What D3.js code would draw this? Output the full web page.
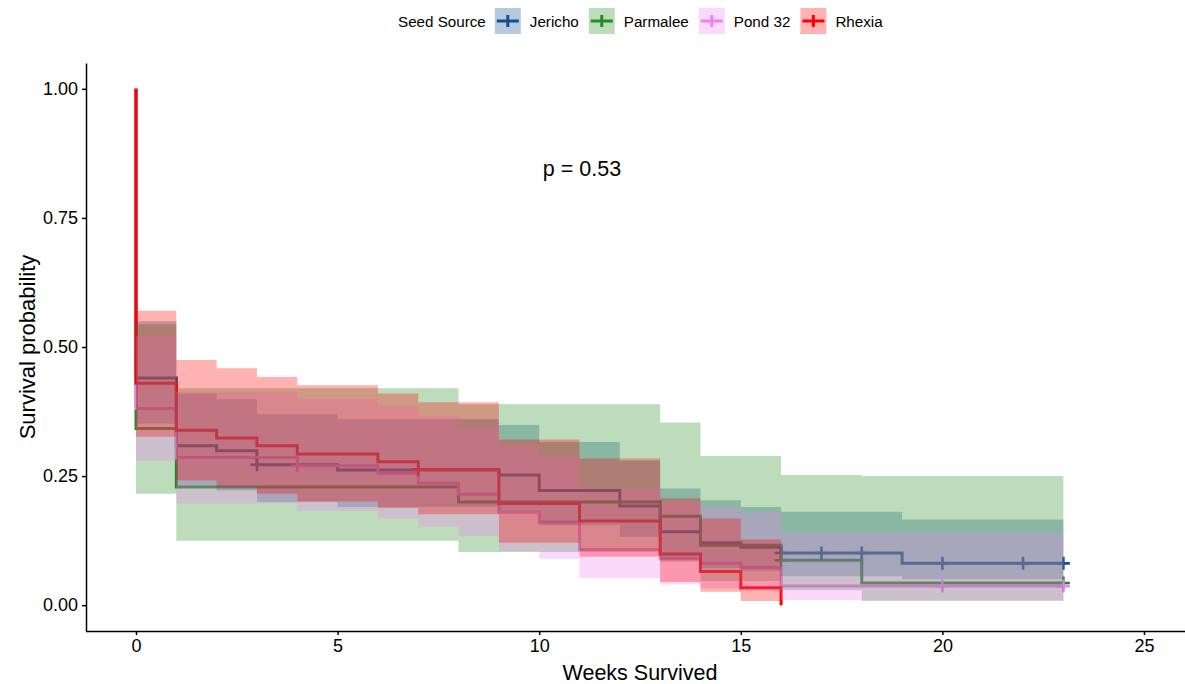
<!DOCTYPE html>
<html>
<head>
<meta charset="utf-8">
<script src="https://cdn.jsdelivr.net/npm/d3@7"></script>
<style>
  body { margin: 0; background: #fff; }
  svg { display: block; font-family: "Liberation Sans", Arial, sans-serif; }
</style>
</head>
<body>
<svg id="chart" width="1185" height="684"></svg>
<script>
// survival steps (first point is the start at 1.0)
const seriesNames = ['Jericho', 'Parmalee', 'Pond 32', 'Rhexia'];

const jerichoTime  = [0, 0, 1, 2, 3, 5, 9, 10, 12, 13, 14, 15, 16, 19, 23];
const jerichoSurv  = [1, 0.44, 0.309, 0.299, 0.272, 0.262, 0.252, 0.222, 0.192, 0.142, 0.121, 0.112, 0.101, 0.081, 0.081];
const jerichoLower = [1, 0.352, 0.232, 0.222, 0.2, 0.19, 0.182, 0.155, 0.132, 0.089, 0.072, 0.066, 0.056, 0.05, 0.05];
const jerichoUpper = [1, 0.55, 0.41, 0.399, 0.37, 0.36, 0.349, 0.316, 0.28, 0.226, 0.203, 0.19, 0.181, 0.166, 0.166];
const jerichoCensor = [3, 16, 17, 18, 20, 22, 23];

const parmaleeTime  = [0, 0, 1, 8, 13, 14, 16, 18, 23];
const parmaleeSurv  = [1, 0.342, 0.229, 0.2, 0.172, 0.116, 0.087, 0.043, 0.043];
const parmaleeLower = [1, 0.216, 0.125, 0.103, 0.084, 0.047, 0.029, 0.008, 0.008];
const parmaleeUpper = [1, 0.544, 0.42, 0.389, 0.354, 0.289, 0.252, 0.25, 0.25];
const parmaleeCensor = [16, 23];

const pondTime  = [0, 0, 1, 4, 6, 7, 8, 9, 10, 11, 13, 14, 15, 16, 23];
const pondSurv  = [1, 0.381, 0.286, 0.27, 0.255, 0.236, 0.215, 0.18, 0.161, 0.108, 0.09, 0.081, 0.073, 0.037, 0.037];
const pondLower = [1, 0.279, 0.197, 0.183, 0.168, 0.152, 0.134, 0.105, 0.09, 0.052, 0.04, 0.033, 0.028, 0.01, 0.01];
const pondUpper = [1, 0.522, 0.413, 0.4, 0.386, 0.367, 0.345, 0.31, 0.288, 0.225, 0.2, 0.19, 0.18, 0.14, 0.14];
const pondCensor = [4, 20, 23];

const rhexiaTime  = [0, 0, 1, 2, 3, 4, 6, 7, 9, 11, 13, 14, 15, 16];
const rhexiaSurv  = [1, 0.43, 0.339, 0.324, 0.309, 0.293, 0.278, 0.263, 0.197, 0.163, 0.099, 0.065, 0.034, 0];
const rhexiaLower = [1, 0.326, 0.242, 0.229, 0.216, 0.201, 0.188, 0.176, 0.121, 0.094, 0.045, 0.026, 0.008, 0];
const rhexiaUpper = [1, 0.57, 0.475, 0.459, 0.442, 0.426, 0.41, 0.393, 0.321, 0.284, 0.207, 0.168, 0.127, 0];
const rhexiaCensor = [7];

const xTicks = [0, 5, 10, 15, 20, 25];
const yTicks = [0, 0.25, 0.5, 0.75, 1];
const pValueLabel = 'p = 0.53';
const legendTitle = 'Seed Source';

const colors = ['#10508F', '#228B22', '#EE82EE', '#FF0000'];

const series = [
  { time: jerichoTime, surv: jerichoSurv, lower: jerichoLower, upper: jerichoUpper, censor: jerichoCensor },
  { time: parmaleeTime, surv: parmaleeSurv, lower: parmaleeLower, upper: parmaleeUpper, censor: parmaleeCensor },
  { time: pondTime, surv: pondSurv, lower: pondLower, upper: pondUpper, censor: pondCensor },
  { time: rhexiaTime, surv: rhexiaSurv, lower: rhexiaLower, upper: rhexiaUpper, censor: rhexiaCensor }
].map((s, i) => ({
  name: seriesNames[i],
  color: colors[i],
  points: s.time.map((t, j) => ({ t, s: s.surv[j], lo: s.lower[j], hi: s.upper[j] })),
  censor: s.censor
}));

const svg = d3.select('#chart');

const x = d3.scaleLinear().domain([-1.25, 26.25]).range([85.6, 1194.4]);
const y = d3.scaleLinear().domain([-0.05, 1.05]).range([631, 63]);

const line = d3.line()
  .x(d => x(d.t))
  .y(d => y(d.s))
  .curve(d3.curveStepAfter);

const area = d3.area()
  .x(d => x(d.t))
  .y0(d => y(d.lo))
  .y1(d => y(d.hi))
  .curve(d3.curveStepAfter);

// survival value at a censor time (step after)
const survAt = (pts, t) => {
  let v = pts[0].s;
  pts.forEach(p => { if (p.t <= t) v = p.s; });
  return v;
};

// curves first, then censor marks, then ribbons on top (as the original draws them)
const plot = svg.append('g');

plot.selectAll('path.curve')
  .data(series)
  .join('path')
  .attr('class', 'curve')
  .attr('d', d => line(d.points))
  .attr('fill', 'none')
  .attr('stroke', d => d.color)
  .attr('stroke-width', 3);

series.forEach(s => {
  plot.selectAll(null)
    .data(s.censor)
    .join('path')
    .attr('d', t => {
      const cx = x(t), cy = y(survAt(s.points, t));
      return `M${cx - 6.5},${cy}H${cx + 6.5}M${cx},${cy - 6.5}V${cy + 6.5}`;
    })
    .attr('stroke', s.color)
    .attr('stroke-width', 2.6);
});

plot.selectAll('path.ribbon')
  .data(series)
  .join('path')
  .attr('class', 'ribbon')
  .attr('d', d => area(d.points))
  .attr('fill', d => d.color)
  .attr('fill-opacity', 0.3)
  .attr('stroke', 'none');

// axes
const xAxis = svg.append('g')
  .attr('transform', 'translate(0,631)')
  .call(d3.axisBottom(x).tickValues(xTicks).tickSize(4).tickSizeOuter(0).tickPadding(4));

const yAxis = svg.append('g')
  .attr('transform', 'translate(86,0)')
  .call(d3.axisLeft(y).tickValues(yTicks).tickFormat(d3.format('.2f')).tickSize(4).tickSizeOuter(0).tickPadding(4));

[xAxis, yAxis].forEach(g => {
  g.select('.domain').attr('stroke', '#000').attr('stroke-width', 1.5);
  g.selectAll('.tick line').attr('stroke', '#000').attr('stroke-width', 1.5);
  g.selectAll('.tick text')
    .attr('fill', '#000')
    .style('font-size', '18px')
    .style('font-family', '"Liberation Sans", Arial, sans-serif');
});

svg.append('text')
  .attr('x', 640)
  .attr('y', 673)
  .attr('text-anchor', 'middle')
  .attr('dominant-baseline', 'central')
  .style('font-size', '21.5px')
  .text('Weeks Survived');

svg.append('text')
  .attr('transform', 'translate(27,347) rotate(-90)')
  .attr('text-anchor', 'middle')
  .attr('dominant-baseline', 'central')
  .style('font-size', '22px')
  .text('Survival probability');

svg.append('text')
  .attr('x', 582)
  .attr('y', 169)
  .attr('text-anchor', 'middle')
  .attr('dominant-baseline', 'central')
  .style('font-size', '21.5px')
  .text(pValueLabel);

// legend across the top
const legend = svg.append('g').attr('transform', 'translate(398,21)');
const title = legend.append('text')
  .attr('x', 0)
  .attr('dominant-baseline', 'central')
  .style('font-size', '15.2px')
  .text(legendTitle);

let lx = title.node().getComputedTextLength() + 9;
series.forEach(s => {
  const key = legend.append('g').attr('transform', `translate(${lx},0)`);
  key.append('rect')
    .attr('x', 0).attr('y', -13)
    .attr('width', 26).attr('height', 26)
    .attr('fill', s.color).attr('fill-opacity', 0.3);
  key.append('path')
    .attr('d', 'M2,0H24M13,-6V6')
    .attr('stroke', s.color)
    .attr('stroke-width', 3);
  const label = legend.append('text')
    .attr('x', lx + 35)
    .attr('dominant-baseline', 'central')
    .style('font-size', '15.2px')
    .text(s.name);
  lx += 35 + label.node().getComputedTextLength() + 10;
});
</script>
</body>
</html>
